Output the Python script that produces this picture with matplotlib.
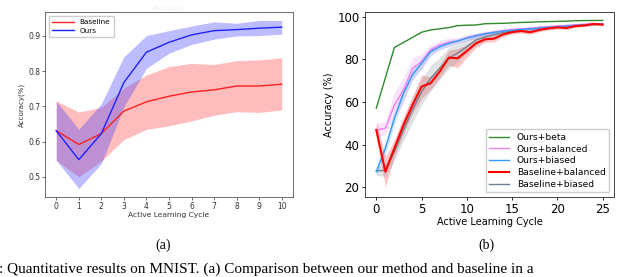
import numpy as np
import matplotlib
matplotlib.use('Agg')
import matplotlib.pyplot as plt

# (a) MNIST: baseline vs ours
cyc_a = list(range(11))
base_mean = [0.631, 0.592, 0.623, 0.687, 0.713, 0.729, 0.741, 0.747, 0.758, 0.758, 0.763]
base_hi = [0.715, 0.684, 0.697, 0.752, 0.789, 0.813, 0.822, 0.819, 0.830, 0.832, 0.838]
base_lo = [0.547, 0.500, 0.545, 0.606, 0.635, 0.645, 0.659, 0.675, 0.685, 0.683, 0.690]
ours_mean = [0.631, 0.549, 0.623, 0.768, 0.854, 0.882, 0.903, 0.915, 0.918, 0.922, 0.925]
ours_hi = [0.715, 0.635, 0.708, 0.841, 0.901, 0.915, 0.928, 0.940, 0.936, 0.944, 0.944]
ours_lo = [0.547, 0.467, 0.538, 0.699, 0.808, 0.851, 0.876, 0.891, 0.900, 0.901, 0.905]

# (b) 5 settings over 25 cycles
cyc_b = list(range(26))
beta = [57.1, 71.3, 85.6, 87.9, 90.3, 92.7, 93.8, 94.3, 94.9, 95.8, 96.0, 96.1, 96.7,
        96.8, 96.9, 97.1, 97.3, 97.4, 97.6, 97.7, 97.8, 97.9, 98.1, 98.2, 98.2, 98.3]
ours_bal = [46.9, 47.7, 58.6, 65.6, 75.8, 78.9, 84.4, 86.7, 88.0, 88.6, 90.2, 91.0, 92.0,
            92.8, 93.4, 94.0, 94.2, 94.6, 95.0, 95.3, 95.6, 95.9, 96.2, 96.5, 96.7, 96.8]
ours_bia = [27.3, 38.3, 52.4, 64.1, 72.8, 78.1, 83.6, 85.9, 87.5, 88.6, 89.9, 91.1, 92.0,
            92.6, 93.2, 93.6, 94.0, 94.3, 94.7, 95.0, 95.3, 95.6, 95.9, 96.2, 96.4, 96.6]
base_bal = [46.9, 27.3, 38.3, 49.2, 58.6, 67.2, 68.8, 74.2, 80.8, 80.5, 83.9, 87.5, 89.4,
            89.7, 91.7, 92.8, 93.3, 92.7, 93.8, 94.5, 95.0, 94.7, 95.6, 95.9, 96.6, 96.3]
base_bia = [27.7, 28.0, 36.7, 46.9, 56.3, 64.8, 71.1, 75.8, 80.5, 83.0, 85.9, 89.1, 90.5,
            91.5, 92.5, 93.3, 93.8, 94.2, 94.6, 95.0, 95.3, 95.6, 95.9, 96.2, 96.5, 96.7]
ours_bal_sd = [3.0, 3.0, 6.0, 6.0, 5.0, 3.5, 2.5, 2.0, 2.0, 1.5, 1.5, 1.2, 1.0, 1.0, 1.0,
               0.8, 0.8, 0.8, 0.7, 0.7, 0.6, 0.6, 0.6, 0.5, 0.5, 0.5]
ours_bia_sd = [2.0, 3.0, 3.0, 3.0, 2.5, 2.5, 2.0, 1.5, 1.5, 1.2, 1.2, 1.0, 1.0, 0.8, 0.8,
               0.8, 0.7, 0.7, 0.6, 0.6, 0.5, 0.5, 0.5, 0.5, 0.5, 0.5]
base_bal_sd = [4.0, 7.0, 4.0, 4.0, 4.0, 5.5, 3.0, 3.0, 3.5, 4.5, 3.0, 2.0, 1.5, 1.5, 1.2,
               1.0, 1.0, 1.0, 0.8, 0.8, 0.8, 0.7, 0.7, 0.6, 0.6, 0.6]
base_bia_sd = [2.0, 3.0, 4.0, 5.0, 6.0, 6.0, 6.0, 5.0, 5.0, 4.0, 3.0, 2.5, 2.0, 1.5, 1.2,
               1.0, 1.0, 1.0, 0.8, 0.8, 0.8, 0.7, 0.7, 0.6, 0.6, 0.6]

fig = plt.figure(figsize=(6.4, 2.77), dpi=100)
ax1 = fig.add_axes([0.0703, 0.2888, 0.3875, 0.6679])
ax2 = fig.add_axes([0.5703, 0.2888, 0.389, 0.6679])

# --- (a)
ax1.plot(cyc_a, base_mean, color='#ff2020', lw=1.0, label='Baseline')
ax1.fill_between(cyc_a, base_lo, base_hi, color='#ff4040', alpha=0.35, lw=0)
ax1.plot(cyc_a, ours_mean, color='#2020ff', lw=1.0, label='Ours')
ax1.fill_between(cyc_a, ours_lo, ours_hi, color='#4040ff', alpha=0.35, lw=0)
ax1.set_xlim(-0.5, 10.5)
ax1.set_ylim(0.443, 0.968)
ax1.set_xticks(cyc_a)
ax1.set_yticks([0.5, 0.6, 0.7, 0.8, 0.9])
ax1.tick_params(labelsize=5.5, length=2, width=0.5, pad=1.5, colors='#333333')
ax1.set_xlabel('Active Learning Cycle', fontsize=5.4, labelpad=1, color='#333333')
ax1.set_ylabel('Accuracy(%)', fontsize=5.0, labelpad=2, color='#333333')
ax1.set_title('Accuracy', fontsize=5, color='#f0f0f0', pad=1.5)
for s in ax1.spines.values():
    s.set_color('#555555')
    s.set_linewidth(0.6)
ax1.legend(loc='upper left', fontsize=5.2, handlelength=3, frameon=True,
           borderpad=0.5, labelspacing=0.35, framealpha=1, edgecolor='#cccccc')

# --- (b)
series = [
    (beta, None, '#2e8b2e', 'Ours+beta', 1.0, 3),
    (ours_bal, ours_bal_sd, 'violet', 'Ours+balanced', 1.0, 3),
    (ours_bia, ours_bia_sd, '#3399ff', 'Ours+biased', 1.0, 3),
    (base_bal, base_bal_sd, 'red', 'Baseline+balanced', 1.5, 4),
    (base_bia, base_bia_sd, 'slategray', 'Baseline+biased', 1.0, 2),
]
for mean, sd, col, lab, lw, z in series:
    ax2.plot(cyc_b, mean, color=col, lw=lw, label=lab, zorder=z)
    if sd is not None:
        m = np.array(mean)
        d = np.array(sd)
        ax2.fill_between(cyc_b, m - d, m + d, color=col, alpha=0.22, lw=0, zorder=1)
ax2.set_xlim(-1.25, 26.25)
ax2.set_ylim(15.45, 102.2)
ax2.set_xticks([0, 5, 10, 15, 20, 25])
ax2.set_yticks([20, 40, 60, 80, 100])
ax2.tick_params(labelsize=8.5, length=2.5, width=0.6, pad=1.5)
ax2.set_xlabel('Active Learning Cycle', fontsize=7, labelpad=1)
ax2.set_ylabel('Accuracy (%)', fontsize=7, labelpad=2)
for s in ax2.spines.values():
    s.set_color('#444444')
    s.set_linewidth(0.7)
ax2.legend(loc='lower right', fontsize=6.6, handlelength=2.2, frameon=True,
           borderpad=0.4, labelspacing=0.3, framealpha=1, edgecolor='#cccccc')

# panel labels and caption
fig.text(163 / 640, 1 - 245 / 277, '(a)', family='Liberation Serif', fontsize=10,
         ha='center', va='center')
fig.text(486 / 640, 1 - 245 / 277, '(b)', family='Liberation Serif', fontsize=10,
         ha='center', va='center')
fig.text(-0.002, 0.5 / 277,
         ': Quantitative results on MNIST. (a) Comparison between our method and baseline in a',
         family='Liberation Serif', fontsize=11, ha='left', va='bottom')

fig.savefig('out.png', dpi=100)
